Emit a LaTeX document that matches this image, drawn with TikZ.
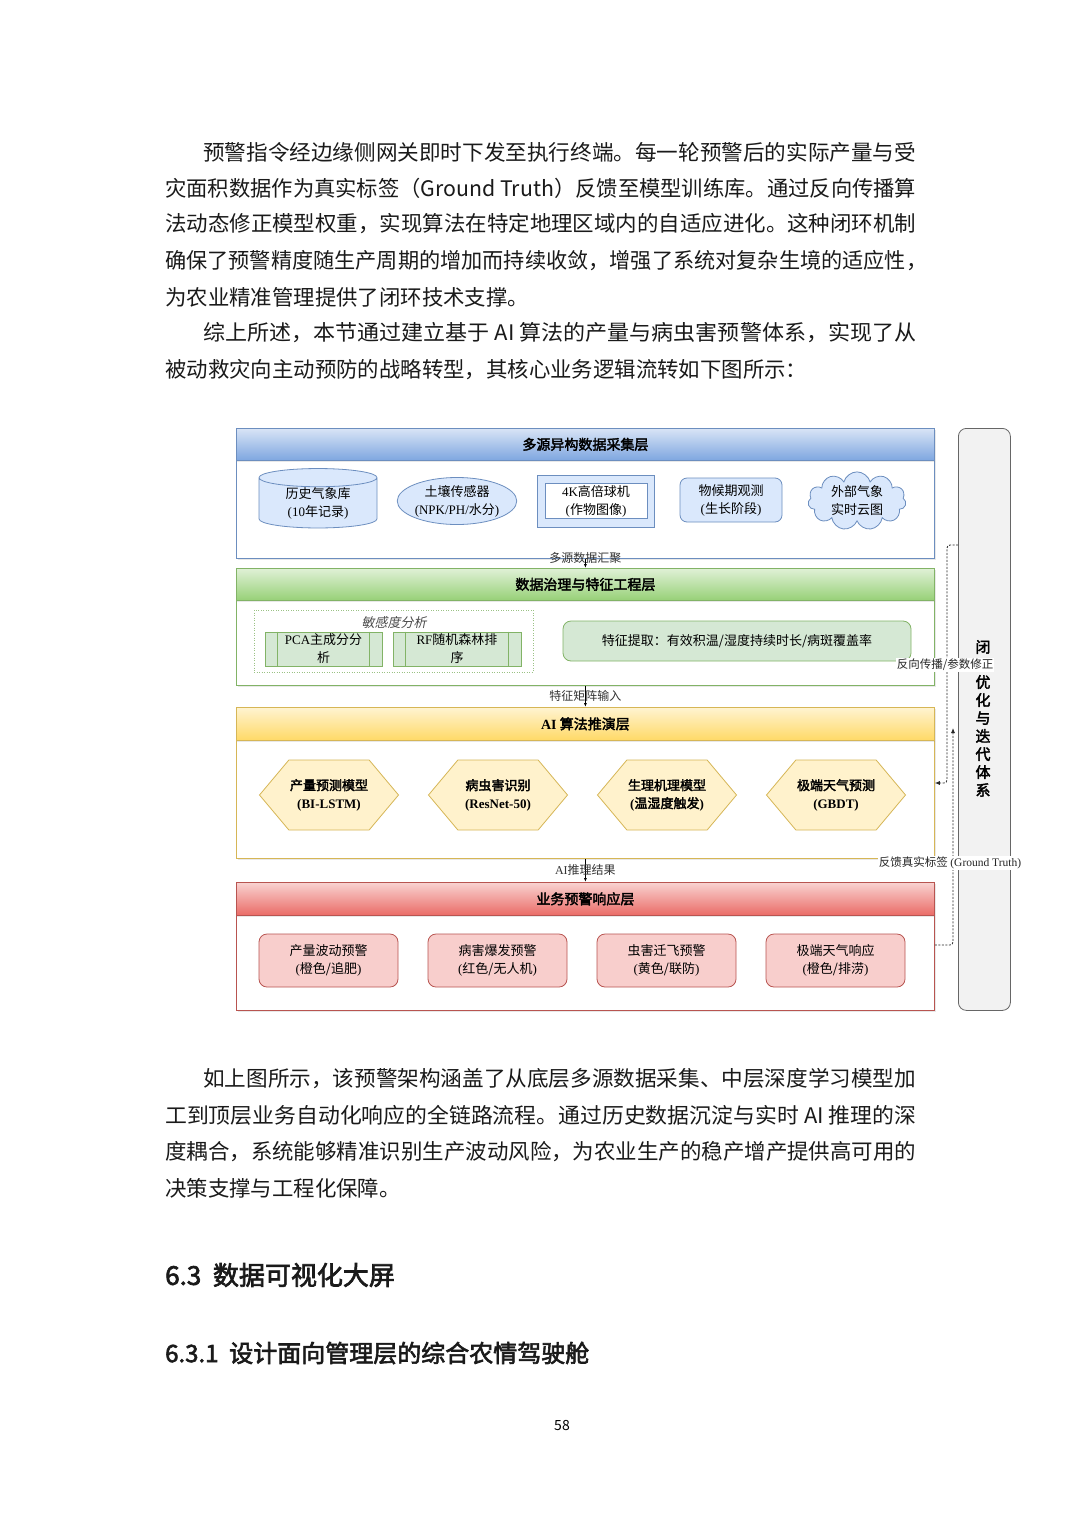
\documentclass[tikz,border=0pt]{standalone}
\usepackage{graphicx}
\usepackage{fontspec}
\setmainfont{Noto Sans CJK SC}[AutoFakeBold=2.5]
\newfontfamily\lat{Liberation Serif}
\newfontfamily\slantcjk{Noto Sans CJK SC}[FakeSlant=0.2]
\usetikzlibrary{arrows.meta,shapes.geometric,shapes.symbols,shadows}

\definecolor{blueLine}{HTML}{6C8EBF}
\definecolor{blueFill}{HTML}{DAE8FC}
\definecolor{blueHead}{HTML}{7EA6E0}
\definecolor{greenLine}{HTML}{82B366}
\definecolor{greenFill}{HTML}{D5E8D4}
\definecolor{greenHead}{HTML}{97D077}
\definecolor{yellowLine}{HTML}{D6B656}
\definecolor{yellowFill}{HTML}{FFF2CC}
\definecolor{yellowHead}{HTML}{FFD966}
\definecolor{redLine}{HTML}{B85450}
\definecolor{redFill}{HTML}{F8CECC}
\definecolor{redHead}{HTML}{EA6B66}
\definecolor{grayLine}{HTML}{666666}
\definecolor{grayFill}{HTML}{F2F2F2}
\definecolor{bodyInk}{HTML}{1A1A1A}

\newcommand{\bodyfont}{\fontsize{21.4pt}{30pt}\selectfont}
\newcommand{\titlefont}{\fontsize{14pt}{17pt}\selectfont\bfseries}
\newcommand{\itemfont}{\fontsize{13pt}{18pt}\selectfont}
\newcommand{\lblfont}{\fontsize{12pt}{14pt}\selectfont}
\newcommand{\fbfont}{\fontsize{11.5pt}{14pt}\selectfont}
% justified text lines: full line and indented first line
\newcommand{\jline}[1]{\resizebox{751pt}{\height}{#1}}
\newcommand{\iline}[1]{\resizebox{713pt}{\height}{#1}}

\tikzset{
  bodytext/.style={font=\bodyfont, text=bodyInk, inner sep=0pt, anchor=west},
  tierbox/.style={draw=#1, fill=white, line width=0.8pt, anchor=north west,
    minimum width=698pt, inner sep=0pt,
    drop shadow={opacity=0.18, shadow xshift=1.5pt, shadow yshift=-1.5pt}},
  headbar/.style 2 args={draw=#1, top color=#2!30, bottom color=#2, line width=0.8pt,
    anchor=north west, minimum width=698pt, minimum height=32pt, inner sep=0pt,
    font=\titlefont,
    drop shadow={opacity=0.18, shadow xshift=1pt, shadow yshift=-2pt}},
  itembox/.style 2 args={draw=#1, fill=#2, line width=0.8pt, font=\itemfont,
    align=center, inner sep=1pt},
  hexa/.style={signal, signal to=east and west, signal pointer angle=100,
    draw=yellowLine, fill=yellowFill, line width=0.8pt, minimum width=139pt,
    minimum height=70pt, inner sep=0pt, font=\itemfont\bfseries, align=center},
  flow/.style={-{Latex[length=4pt,width=3pt]}, line width=0.8pt, black},
  lbl/.style={font=\lblfont, text=black!80, inner sep=1pt},
  fb/.style={-{Latex[length=5pt,width=4pt]}, line width=0.8pt, black!85,
    dash pattern=on 2pt off 1.5pt, rounded corners=3pt},
  fblbl/.style={font=\fbfont, fill=white, inner sep=1pt, text=black!85}
}

\begin{document}
\begin{tikzpicture}[x=1pt, y=-1pt]
  \fill[white] (0,0) rectangle (1080,1528);
  \useasboundingbox (0,0) rectangle (1080,1528);

  % text above the figure
  \node[bodytext] (p1a) at (203,152) {\iline{预警指令经边缘侧网关即时下发至执行终端。每一轮预警后的实际产量与受}};
  \node[bodytext] (p1b) at (165,188) {\jline{灾面积数据作为真实标签（Ground Truth）反馈至模型训练库。通过反向传播算}};
  \node[bodytext] (p1c) at (165,224) {\jline{法动态修正模型权重，实现算法在特定地理区域内的自适应进化。这种闭环机制}};
  \node[bodytext] (p1d) at (165,261) {\resizebox{762pt}{\height}{确保了预警精度随生产周期的增加而持续收敛，增强了系统对复杂生境的适应性，}};
  \node[bodytext] (p1e) at (165,297) {为农业精准管理提供了闭环技术支撑。};
  \node[bodytext] (p2a) at (203,333) {\iline{综上所述，本节通过建立基于\kern5pt AI\kern5pt 算法的产量与病虫害预警体系，实现了从}};
  \node[bodytext] (p2b) at (165,370) {被动救灾向主动预防的战略转型，其核心业务逻辑流转如下图所示：};

  % layer 1: data collection
  \node[tierbox=blueLine, minimum height=130pt] (blueLayer) at (236,428) {};
  \node[headbar={blueLine}{blueHead}] (blueTitle) at (236,428) {多源异构数据采集层};
  \node[cylinder, shape border rotate=90, aspect=0.28, itembox={blueLine}{blueFill},
    minimum width=118pt, minimum height=53pt, inner sep=0pt] (hist) at (318,503)
    {历史气象库\\{\lat (10}年记录{\lat )}};
  \node[ellipse, itembox={blueLine}{blueFill}, minimum width=116pt,
    minimum height=47pt, inner sep=0pt] (soil) at (457,501)
    {土壤传感器\\{\lat (NPK/PH/}水分{\lat )}};
  \node[itembox={blueLine}{blueFill}, minimum width=117pt, minimum height=52pt] (camFrame) at (596,501) {};
  \node[itembox={blueLine}{white}, minimum width=102pt, minimum height=35pt] (cam) at (596,501)
    {{\lat 4K}高倍球机\\{\lat (}作物图像{\lat )}};
  \node[itembox={blueLine}{blueFill}, rounded corners=7pt, minimum width=102pt,
    minimum height=44pt] (pheno) at (731,500) {物候期观测\\{\lat (}生长阶段{\lat )}};
  \node[cloud, cloud puffs=11, aspect=1.9, itembox={blueLine}{blueFill}, inner sep=0pt,
    minimum width=98pt, minimum height=52pt] (cloudImg) at (857,501) {外部气象\\实时云图};

  % layer 2: feature engineering
  \node[tierbox=greenLine, minimum height=117pt] (greenLayer) at (236,568) {};
  \node[headbar={greenLine}{greenHead}] (greenTitle) at (236,568) {数据治理与特征工程层};
  \node[draw=greenLine!80, dash pattern=on 1pt off 1.5pt, anchor=north west,
    minimum width=279pt, minimum height=62pt, inner sep=0pt] (sensBox) at (254,610) {};
  \node[font=\itemfont\slantcjk, text=black!70, inner sep=0pt] (sensLbl) at (394,623) {敏感度分析};
  \node[itembox={greenLine}{greenFill}, minimum width=117pt, minimum height=34pt] (pca) at (323.5,649)
    {{\lat PCA}主成分分\\析};
  \node[itembox={greenLine}{greenFill}, minimum width=128pt, minimum height=34pt] (rf) at (457,649)
    {{\lat RF}随机森林排\\序};
  \foreach \bx in {pca, rf} {
    \draw[greenLine, line width=0.8pt] ([xshift=13pt]\bx.north west) -- ([xshift=13pt]\bx.south west);
    \draw[greenLine, line width=0.8pt] ([xshift=-13pt]\bx.north east) -- ([xshift=-13pt]\bx.south east);
  }
  \node[itembox={greenLine}{greenFill}, rounded corners=8pt, minimum width=348pt,
    minimum height=40pt] (feat) at (737,641) {特征提取：有效积温/湿度持续时长/病斑覆盖率};

  % layer 3: AI models
  \node[tierbox=yellowLine, minimum height=151pt] (yellowLayer) at (236,707) {};
  \node[headbar={yellowLine}{yellowHead}, minimum height=33pt] (yellowTitle) at (236,707) {{\lat\bfseries AI} 算法推演层};
  \node[hexa] (yieldModel) at (329,795) {产量预测模型\\{\lat\bfseries (BI-LSTM)}};
  \node[hexa] (pestModel) at (498,795) {病虫害识别\\{\lat\bfseries (ResNet-50)}};
  \node[hexa] (physModel) at (667,795) {生理机理模型\\{\lat\bfseries (}温湿度触发{\lat\bfseries )}};
  \node[hexa] (wxModel) at (836,795) {极端天气预测\\{\lat\bfseries (GBDT)}};

  % layer 4: warning response
  \node[tierbox=redLine, minimum height=128pt] (redLayer) at (236,882) {};
  \node[headbar={redLine}{redHead}, minimum height=33pt] (redTitle) at (236,882) {业务预警响应层};
  \node[itembox={redLine}{redFill}, rounded corners=8pt, minimum width=139pt, minimum height=53pt]
    (yieldWarn) at (328.5,960.5) {产量波动预警\\{\lat (}橙色/追肥{\lat )}};
  \node[itembox={redLine}{redFill}, rounded corners=8pt, minimum width=139pt, minimum height=53pt]
    (diseaseWarn) at (497.5,960.5) {病害爆发预警\\{\lat (}红色/无人机{\lat )}};
  \node[itembox={redLine}{redFill}, rounded corners=8pt, minimum width=139pt, minimum height=53pt]
    (pestWarn) at (666.5,960.5) {虫害迁飞预警\\{\lat (}黄色/联防{\lat )}};
  \node[itembox={redLine}{redFill}, rounded corners=8pt, minimum width=139pt, minimum height=53pt]
    (wxWarn) at (835.5,960.5) {极端天气响应\\{\lat (}橙色/排涝{\lat )}};

  % flow between layers
  \draw[flow] (blueLayer.south) -- node[lbl, yshift=5pt] {多源数据汇聚} (greenTitle.north);
  \draw[flow] (greenLayer.south) -- node[lbl] {特征矩阵输入} (yellowTitle.north);
  \draw[flow] (yellowLayer.south) -- node[lbl] {{\lat AI}推理结果} (redTitle.north);

  % closed loop column
  \node[draw=grayLine, fill=grayFill, rounded corners=8pt, line width=0.8pt, anchor=north west,
    minimum width=52pt, minimum height=582pt, inner sep=0pt] (loopBox) at (958,428) {};
  \node[font=\fontsize{15pt}{18pt}\selectfont\bfseries, inner sep=0pt] (loopTop) at (983,647) {闭};
  \node[font=\fontsize{15pt}{18pt}\selectfont\bfseries, align=center, inner sep=0pt, anchor=north]
    (loopTitle) at (983,675) {优\\化\\与\\迭\\代\\体\\系};

  % feedback paths
  \coordinate (gtEnd) at (953,728);
  \draw[fb] (loopBox.west |- 0,545) -- ++(-11,0) |- (yellowLayer.east |- 0,783);
  \draw[fb] (redLayer.east |- 0,945) -| (gtEnd);
  \node[fblbl] (bpLbl) at (945,665) {反向传播/参数修正};
  \node[fblbl] (gtLbl) at (950,863) {反馈真实标签 {\lat (Ground Truth)}};

  % text below the figure
  \node[bodytext] (p3a) at (203,1079) {\iline{如上图所示，该预警架构涵盖了从底层多源数据采集、中层深度学习模型加}};
  \node[bodytext] (p3b) at (165,1115) {\jline{工到顶层业务自动化响应的全链路流程。通过历史数据沉淀与实时\kern5pt AI\kern5pt 推理的深}};
  \node[bodytext] (p3c) at (165,1152) {\jline{度耦合，系统能够精准识别生产波动风险，为农业生产的稳产增产提供高可用的}};
  \node[bodytext] (p3d) at (165,1188) {决策支撑与工程化保障。};

  % headings and page number
  \node[bodytext, font=\fontsize{26pt}{30pt}\selectfont\bfseries] (sec) at (165,1275) {6.3\ \ 数据可视化大屏};
  \node[bodytext, font=\fontsize{24pt}{28pt}\selectfont\bfseries] (subsec) at (165,1353) {6.3.1\ \ 设计面向管理层的综合农情驾驶舱};
  \node[font=\fontsize{14pt}{16pt}\selectfont, inner sep=0pt] (pageNo) at (562,1425) {58};
\end{tikzpicture}
\end{document}
